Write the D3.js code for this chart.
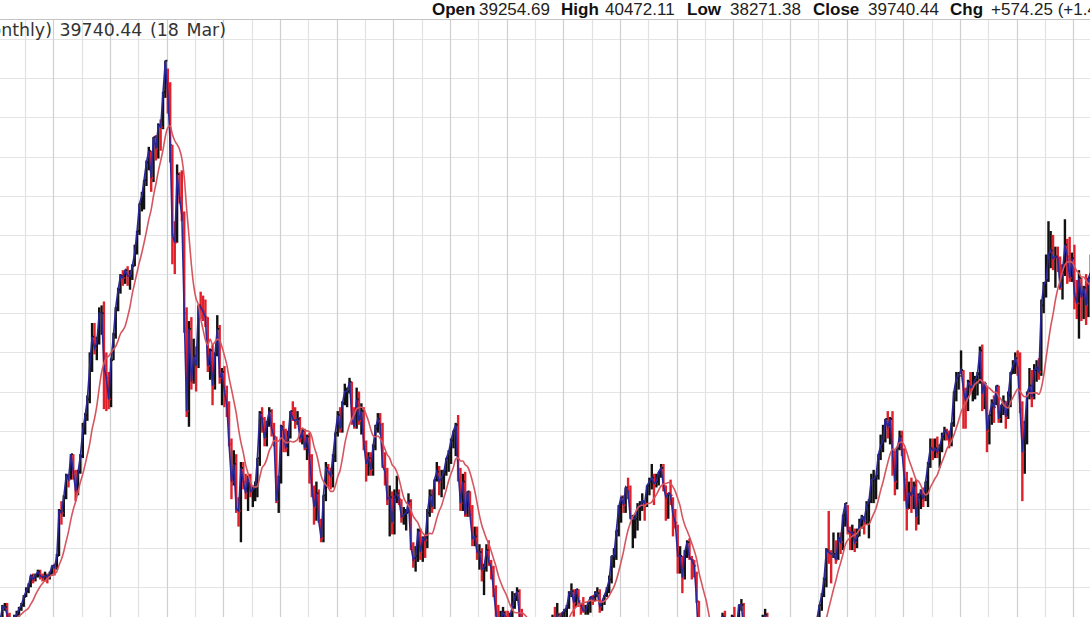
<!DOCTYPE html>
<meta charset="utf-8">
<style type="text/css">
  body { margin: 0; background: #fff; }
  svg { display: block; }
  .hdr { font-family: "Liberation Sans", Arial, sans-serif; font-size: 17px; fill: #222; }
  .hdr .lab { font-weight: bold; fill: #111; }
  .title { font-family: Verdana, "DejaVu Sans", sans-serif; font-size: 17.4px; word-spacing: 2px; fill: #333; }
</style>
<body></body>
<script src="https://d3js.org/d3.v7.min.js"></script>
<script>
  // monthly bars from Jan 1983, values in hundreds of index points
  var startYear = 1983;

  var close = [
    80, 80, 85, 86, 86, 88, 90, 91, 93, 94, 93, 99,          // 1983
    102, 103, 110, 110, 106, 103, 100, 105, 106, 109, 111, 115, // 1984
    118, 121, 126, 124, 126, 128, 126, 125, 126, 125, 127, 131, // 1985
    130, 136, 159, 158, 166, 177, 175, 188, 179, 169, 179, 187, // 1986
    200, 208, 216, 233, 248, 242, 245, 260, 260, 233, 227, 216, // 1987
    236, 249, 263, 272, 279, 278, 282, 279, 279, 284, 291, 302, // 1988
    316, 320, 328, 337, 343, 329, 350, 344, 356, 355, 373, 389, // 1989
    372, 346, 300, 296, 331, 319, 310, 260, 210, 252, 225, 238, // 1990
    233, 264, 263, 261, 258, 233, 241, 223, 239, 252, 227, 230, // 1991
    220, 213, 193, 174, 183, 160, 159, 181, 174, 168, 177, 169, // 1992
    170, 171, 186, 209, 206, 196, 204, 210, 201, 197, 164, 174, // 1993
    202, 200, 191, 197, 210, 206, 205, 206, 196, 200, 191, 197, // 1994
    187, 171, 161, 168, 154, 145, 167, 181, 179, 177, 187, 199, // 1995
    208, 201, 214, 220, 220, 225, 207, 202, 216, 205, 210, 194, // 1996
    183, 186, 180, 192, 201, 206, 203, 182, 179, 165, 166, 153, // 1997
    166, 168, 165, 156, 157, 158, 164, 141, 134, 136, 149, 138, // 1998
    145, 144, 158, 167, 161, 175, 179, 174, 176, 179, 186, 189, // 1999
    195, 200, 203, 180, 163, 174, 157, 169, 157, 145, 146, 138, // 2000
    138, 129, 130, 139, 133, 130, 119, 107, 98, 104, 107, 105,  // 2001
    100, 106, 110, 115, 118, 106, 99, 96, 94, 86, 92, 86,       // 2002
    83, 84, 80, 78, 84, 91, 96, 103, 102, 106, 101, 107,        // 2003
    108, 110, 117, 118, 112, 119, 113, 111, 108, 108, 112, 115, // 2004
    114, 117, 117, 110, 113, 116, 119, 124, 136, 136, 149, 161, // 2005
    166, 162, 171, 169, 155, 155, 155, 161, 161, 164, 163, 172, // 2006
    174, 176, 173, 174, 179, 181, 172, 166, 168, 167, 157, 153, // 2007
    136, 136, 125, 138, 143, 135, 134, 131, 113, 86, 85, 89,    // 2008
    80, 76, 81, 88, 95, 100, 104, 105, 101, 100, 93, 105,       // 2009
    102, 101, 111, 111, 98, 94, 95, 88, 94, 92, 99, 102,        // 2010
    102, 106, 98, 98, 97, 98, 98, 90, 87, 90, 84, 85,           // 2011
    88, 97, 101, 95, 85, 90, 87, 88, 89, 89, 94, 104,           // 2012
    111, 116, 124, 139, 138, 137, 137, 134, 145, 143, 157, 163, // 2013
    149, 148, 148, 143, 146, 152, 156, 154, 162, 164, 175, 175, // 2014
    177, 188, 192, 195, 206, 202, 206, 189, 174, 191, 197, 190, // 2015
    175, 160, 168, 167, 172, 156, 166, 169, 165, 174, 183, 191, // 2016
    190, 191, 189, 192, 197, 200, 199, 196, 204, 220, 227, 228, // 2017
    231, 221, 215, 225, 222, 223, 226, 229, 241, 219, 224, 200, // 2018
    208, 214, 212, 223, 206, 213, 215, 207, 218, 229, 233, 237, // 2019
    232, 211, 189, 202, 219, 223, 217, 231, 232, 230, 264, 274, // 2020
    277, 290, 292, 288, 289, 288, 273, 281, 295, 289, 278, 288, // 2021
    270, 265, 278, 268, 273, 264, 278, 281, 259                 // 2022
  ];

  var high = [
    81, 81, 86, 87, 87, 89, 91, 92, 94, 95, 95, 99,
    103, 105, 111, 112, 112, 107, 104, 106, 108, 110, 112, 116,
    120, 122, 126, 127, 127, 129, 129, 127, 128, 127, 128, 131,
    132, 137, 160, 164, 167, 178, 178, 188, 188, 180, 180, 188,
    204, 209, 218, 240, 255, 255, 248, 263, 264, 266, 240, 230,
    237, 250, 263, 273, 280, 282, 282, 284, 282, 285, 295, 302,
    316, 322, 328, 338, 345, 343, 350, 351, 357, 359, 373, 389,
    385, 378, 346, 307, 336, 332, 333, 312, 263, 256, 258, 247,
    243, 264, 271, 269, 267, 258, 242, 244, 240, 259, 254, 232,
    233, 223, 215, 196, 190, 188, 166, 184, 184, 178, 177, 178,
    172, 174, 186, 210, 212, 207, 205, 212, 211, 204, 197, 177,
    203, 205, 201, 200, 210, 215, 212, 210, 207, 201, 201, 198,
    199, 188, 172, 174, 170, 155, 167, 184, 183, 181, 188, 199,
    210, 212, 215, 224, 222, 227, 225, 212, 222, 220, 214, 212,
    195, 189, 189, 193, 203, 209, 209, 204, 189, 181, 172, 169,
    170, 177, 170, 165, 161, 160, 168, 165, 143, 141, 150, 150,
    146, 147, 160, 170, 170, 175, 184, 182, 180, 180, 186, 190,
    196, 200, 204, 208, 181, 178, 179, 169, 169, 162, 151, 151,
    142, 140, 132, 142, 144, 134, 131, 121, 111, 108, 110, 108,
    108, 107, 118, 117, 120, 119, 109, 103, 101, 93, 93, 94,
    88, 87, 86, 82, 85, 93, 100, 106, 110, 112, 107, 107,
    109, 111, 118, 122, 119, 119, 119, 112, 115, 111, 113, 115,
    116, 118, 120, 119, 113, 116, 120, 126, 136, 140, 149, 162,
    166, 167, 171, 176, 172, 157, 157, 163, 164, 168, 164, 172,
    176, 183, 178, 178, 179, 183, 183, 172, 168, 175, 166, 160,
    152, 141, 136, 139, 144, 145, 136, 134, 128, 113, 92, 89,
    94, 81, 87, 90, 96, 104, 104, 107, 108, 103, 101, 106,
    110, 104, 111, 114, 112, 102, 98, 97, 96, 98, 102, 104,
    106, 109, 107, 100, 100, 99, 102, 101, 91, 91, 90, 88,
    89, 98, 103, 99, 96, 90, 91, 94, 92, 92, 95, 104,
    111, 117, 125, 140, 159, 139, 148, 144, 148, 148, 157, 163,
    162, 151, 152, 150, 150, 155, 157, 156, 164, 165, 178, 180,
    177, 188, 198, 203, 206, 210, 207, 210, 190, 191, 200, 200,
    191, 179, 174, 176, 174, 175, 168, 170, 171, 174, 184, 196,
    196, 196, 197, 193, 199, 202, 201, 200, 204, 220, 230, 230,
    241, 231, 222, 226, 230, 230, 228, 230, 243, 244, 225, 223,
    208, 216, 218, 223, 223, 213, 218, 215, 220, 230, 236, 240,
    241, 240, 215, 205, 220, 232, 231, 234, 236, 237, 267, 276,
    290, 307, 302, 300, 294, 294, 289, 285, 308, 298, 299, 291,
    295, 277, 282, 278, 274, 280, 278, 290, 286
  ];

  var low = [
    78, 78, 80, 84, 85, 86, 88, 89, 90, 92, 91, 93,
    99, 101, 103, 108, 104, 101, 97, 99, 104, 105, 108, 110,
    115, 117, 120, 122, 123, 125, 124, 123, 123, 122, 124, 126,
    126, 129, 136, 152, 156, 165, 171, 175, 175, 164, 167, 178,
    186, 198, 205, 214, 230, 239, 236, 244, 249, 211, 210, 211,
    212, 236, 247, 261, 270, 274, 275, 274, 272, 277, 284, 290,
    300, 312, 313, 325, 333, 322, 327, 338, 339, 343, 354, 370,
    362, 337, 285, 280, 296, 316, 307, 250, 207, 202, 221, 224,
    220, 232, 257, 256, 253, 230, 226, 213, 221, 238, 224, 213,
    212, 207, 192, 165, 172, 158, 151, 143, 170, 165, 159, 166,
    161, 164, 166, 182, 199, 192, 192, 202, 197, 192, 163, 158,
    173, 189, 189, 187, 196, 205, 201, 203, 194, 193, 190, 185,
    173, 166, 152, 154, 153, 143, 143, 164, 171, 170, 171, 184,
    197, 199, 199, 213, 212, 219, 203, 201, 201, 203, 198, 190,
    174, 177, 177, 177, 190, 199, 198, 181, 172, 162, 146, 147,
    147, 163, 162, 153, 152, 149, 158, 139, 130, 128, 133, 134,
    133, 135, 140, 156, 158, 160, 174, 167, 166, 170, 177, 179,
    183, 191, 187, 174, 159, 159, 156, 156, 156, 141, 141, 134,
    129, 123, 116, 128, 131, 124, 115, 105, 92, 95, 101, 98,
    98, 94, 104, 109, 113, 104, 98, 92, 90, 82, 82, 83,
    82, 82, 77, 76, 79, 83, 91, 94, 101, 102, 94, 97,
    103, 103, 109, 115, 105, 110, 110, 106, 107, 106, 106, 107,
    111, 113, 115, 107, 108, 111, 115, 117, 122, 130, 134, 146,
    153, 158, 158, 165, 155, 140, 145, 149, 154, 159, 154, 161,
    167, 170, 162, 171, 172, 176, 169, 154, 155, 162, 146, 150,
    127, 127, 117, 124, 135, 134, 124, 125, 112, 69, 74, 78,
    78, 73, 70, 79, 85, 94, 90, 100, 99, 96, 91, 93,
    101, 99, 102, 108, 95, 93, 90, 87, 89, 91, 91, 98,
    101, 102, 82, 94, 93, 93, 96, 86, 84, 83, 82, 82,
    83, 88, 97, 93, 85, 83, 84, 86, 86, 85, 85, 94,
    104, 108, 115, 120, 132, 122, 135, 132, 134, 137, 139, 151,
    147, 139, 139, 138, 140, 146, 150, 147, 152, 145, 163, 163,
    165, 175, 185, 189, 194, 196, 193, 177, 167, 170, 190, 187,
    164, 149, 160, 158, 160, 149, 152, 160, 161, 164, 161, 181,
    185, 186, 186, 181, 189, 195, 195, 191, 192, 202, 215, 221,
    229, 201, 201, 210, 219, 215, 216, 218, 224, 210, 211, 189,
    193, 203, 204, 213, 204, 204, 208, 201, 206, 212, 229, 229,
    228, 209, 164, 178, 193, 216, 212, 216, 225, 226, 228, 260,
    268, 276, 283, 282, 273, 281, 272, 267, 279, 275, 276, 276,
    262, 257, 247, 256, 257, 254, 258, 276, 258
  ];

  var gridYears = d3.range(1984, 2024);
  var gridPrices = d3.range(10000, 42001, 2000);
  var maPeriod = 10;

  var headerLabels = ["Open", "High", "Low", "Close", "Chg"];
  var headerValues = ["39254.69", "40472.11", "38271.38", "39740.44", "+574.25 (+1.47%)"];
  var titleText = "$NIKK Nikkei 225 (Monthly) 39740.44 (18 Mar)";

  var width = 1090,
    height = 617,
    plotTop = 19;

  var bars = close.map(function(c, i) {
    return {
      date: new Date(startYear, i, 15),
      close: c * 100,
      high: high[i] * 100,
      low: low[i] * 100,
      prev: i > 0 ? close[i - 1] * 100 : c * 100
    };
  });

  bars.forEach(function(d, i) {
    d.ma = i >= maPeriod - 1 ? d3.mean(bars.slice(i - maPeriod + 1, i + 1), function(b) { return b.close; }) : null;
  });

  var x = d3.scaleTime()
    .domain([new Date(1990, 0, 1), new Date(2020, 0, 1)])
    .range([166.7, 166.7 + 30 * 28.33]);

  var y = d3.scaleLinear()
    .domain([12000, 38000])
    .range([587.3, 78.3]);

  var svg = d3.select("body").append("svg")
    .attr("width", width)
    .attr("height", height);

  svg.append("defs").append("clipPath")
    .attr("id", "clip")
    .append("rect")
    .attr("x", 0)
    .attr("y", plotTop)
    .attr("width", width)
    .attr("height", height - plotTop);

  var grid = svg.append("g");

  grid.selectAll(".hline")
    .data(gridPrices.filter(function(p) { return y(p) > plotTop + 2 && y(p) < height; }))
    .enter().append("line")
    .attr("x1", 0)
    .attr("x2", width)
    .attr("y1", function(d) { return Math.round(y(d)) + 0.5; })
    .attr("y2", function(d) { return Math.round(y(d)) + 0.5; })
    .attr("stroke", "#e4e4e4")
    .attr("stroke-width", 1.2);

  grid.selectAll(".vline")
    .data(gridYears)
    .enter().append("line")
    .attr("x1", function(d) { return Math.round(x(new Date(d, 0, 1))) + 0.5; })
    .attr("x2", function(d) { return Math.round(x(new Date(d, 0, 1))) + 0.5; })
    .attr("y1", plotTop)
    .attr("y2", height)
    .attr("stroke", function(d) { return d % 2 === 0 ? "#cfcfcf" : "#e2e2e2"; })
    .attr("stroke-width", 1.2);

  svg.append("line")
    .attr("x1", 0)
    .attr("x2", width)
    .attr("y1", plotTop + 0.5)
    .attr("y2", plotTop + 0.5)
    .attr("stroke", "#c4c4c4")
    .attr("stroke-width", 1.2);

  var plot = svg.append("g").attr("clip-path", "url(#clip)");

  // price bars
  plot.selectAll(".bar")
    .data(bars)
    .enter().append("line")
    .attr("class", "bar")
    .attr("x1", function(d) { return x(d.date); })
    .attr("x2", function(d) { return x(d.date); })
    .attr("y1", function(d) { return y(d.high); })
    .attr("y2", function(d) { return y(d.low); })
    .attr("stroke", function(d) { return d.close < d.prev ? "#e0202b" : "#111"; })
    .attr("stroke-width", 2.4);

  plot.selectAll(".tick")
    .data(bars)
    .enter().append("line")
    .attr("x1", function(d) { return x(d.date); })
    .attr("x2", function(d) { return x(d.date) + 2; })
    .attr("y1", function(d) { return y(d.close); })
    .attr("y2", function(d) { return y(d.close); })
    .attr("stroke", function(d) { return d.close < d.prev ? "#e0202b" : "#111"; })
    .attr("stroke-width", 1.8);

  var closeLine = d3.line()
    .x(function(d) { return x(d.date); })
    .y(function(d) { return y(d.close); });

  plot.append("path")
    .datum(bars)
    .attr("fill", "none")
    .attr("stroke", "#2a2898")
    .attr("stroke-width", 1.6)
    .attr("d", closeLine);

  var maLine = d3.line()
    .defined(function(d) { return d.ma !== null; })
    .curve(d3.curveMonotoneX)
    .x(function(d) { return x(d.date); })
    .y(function(d) { return y(d.ma); });

  plot.append("path")
    .datum(bars)
    .attr("fill", "none")
    .attr("stroke", "#d6565f")
    .attr("stroke-width", 1.6)
    .attr("d", maLine);

  // chart label, clipped at the left edge
  svg.append("text")
    .attr("class", "title")
    .attr("x", 226)
    .attr("y", 36)
    .attr("text-anchor", "end")
    .text(titleText);

  // header with last values
  var hdrX = [[432, 479], [561, 605], [687, 730], [813, 868], [950, 991]];
  var hdr = svg.append("text")
    .attr("class", "hdr")
    .attr("y", 15);

  headerLabels.forEach(function(l, i) {
    hdr.append("tspan").attr("class", "lab").attr("x", hdrX[i][0]).text(l);
    hdr.append("tspan").attr("x", hdrX[i][1]).text(headerValues[i]);
  });
</script>
